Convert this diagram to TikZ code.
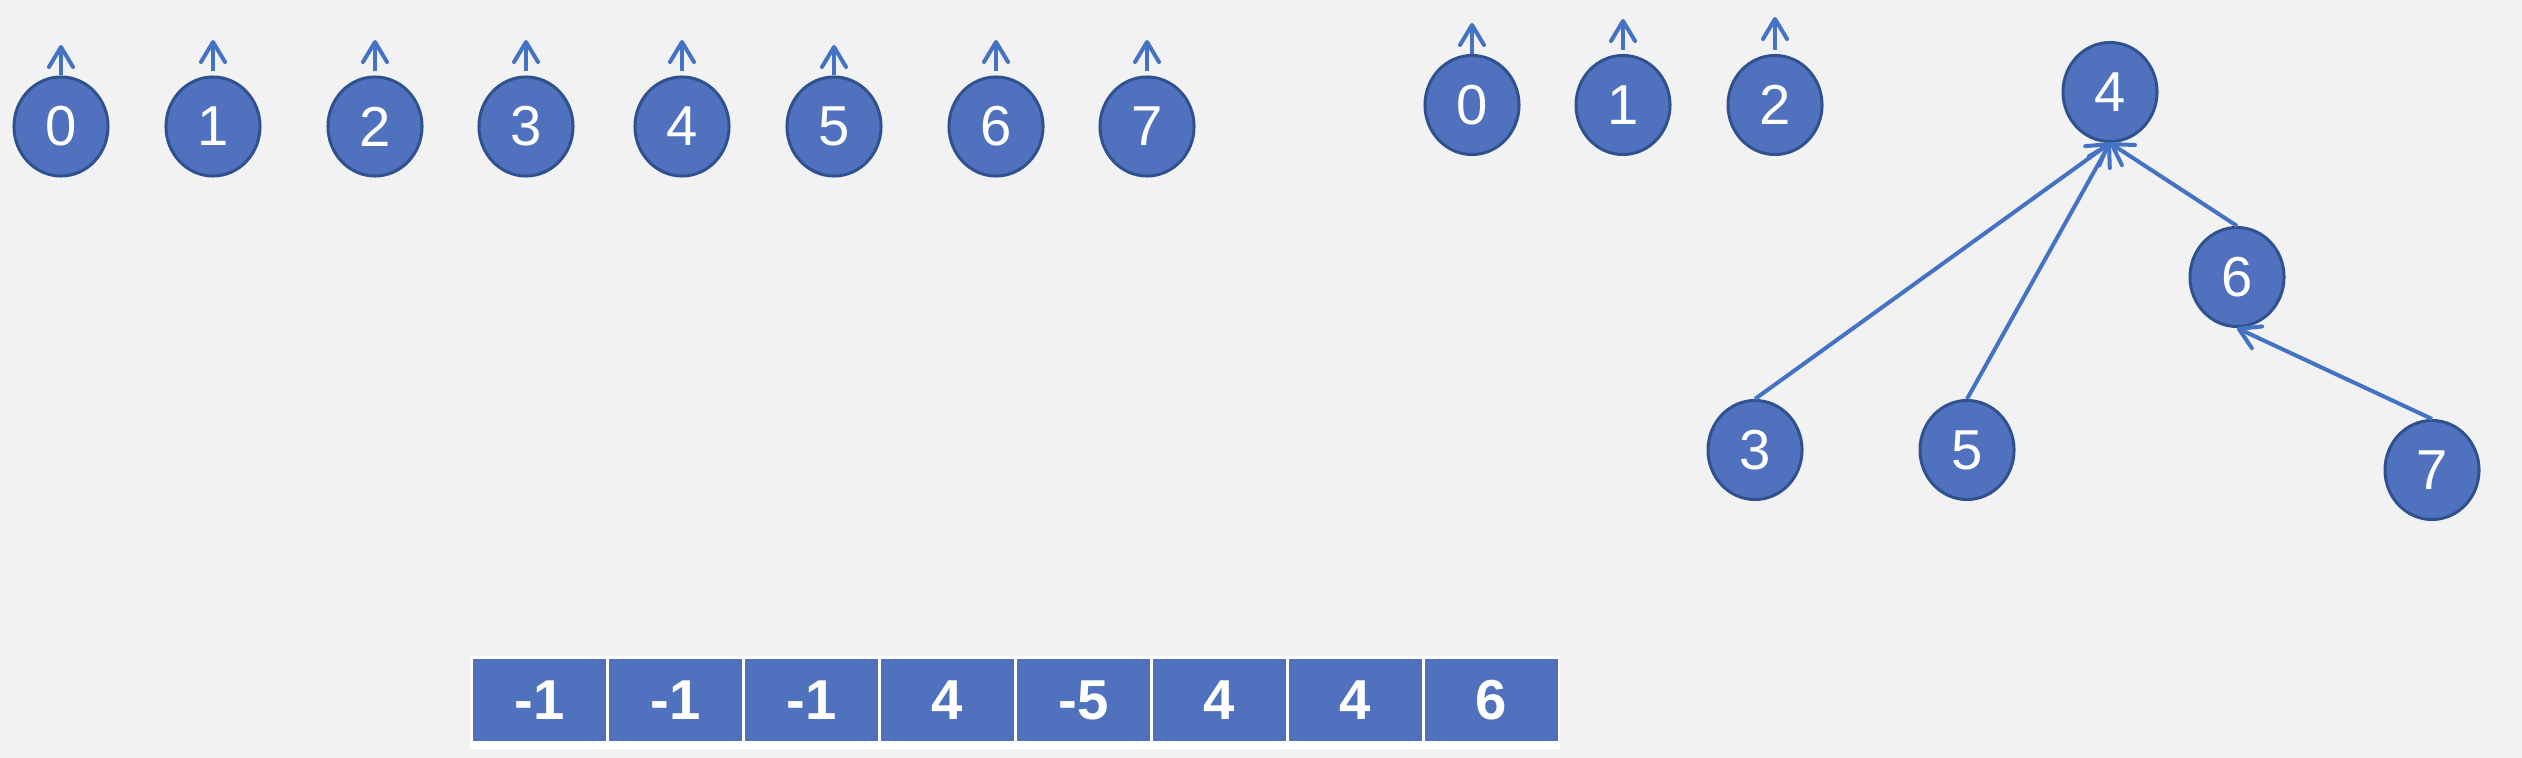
\documentclass[tikz,border=0pt]{standalone}
\usepackage{fontspec}
\setmainfont{Liberation Sans}
\usetikzlibrary{arrows.meta,shapes.geometric}
\definecolor{bgGray}{HTML}{F2F2F2}
\definecolor{nodeBlue}{HTML}{5072BE}
\definecolor{rimBlue}{HTML}{2F528F}
\definecolor{lineBlue}{HTML}{4472C4}

\begin{document}
\begin{tikzpicture}[x=0.01cm, y=-0.01cm,
    vert/.style={ellipse, fill=nodeBlue, draw=rimBlue, line width=0.03cm, minimum width=0.94cm, minimum height=0.99cm, inner sep=0pt, text=white, font=\fontsize{16}{19}\selectfont},
    cell/.style={rectangle, fill=nodeBlue, minimum width=1.33cm, minimum height=0.82cm, inner sep=0pt, text=white, font=\fontsize{16}{19}\selectfont\bfseries},
    parent/.style={lineBlue, line width=0.04cm, -{Straight Barb[length=2mm, width=2.4mm, round]}}]
    \fill[bgGray] (0,0) rectangle (2522,758);
    \useasboundingbox (0,0) rectangle (2522,758);
    % every vertex is its own root
    \foreach \i/\x/\tip/\gap in {0/61/45/0pt, 1/213/40/1.2pt, 2/375/40/1.2pt, 3/526/40/1.2pt, 4/682/40/1.2pt, 5/834/45/0pt, 6/996/40/1.2pt, 7/1147/40/1.2pt} {
        \node[vert] (a\i) at (\x,126.5) {\i};
        \coordinate (ta\i) at (\x,\tip);
        \draw[parent, shorten <=\gap] (a\i) -- (ta\i);
    }
    % roots left after the unions
    \foreach \i/\x/\tip/\gap in {0/1472/23/0pt, 1/1623/19/1.2pt, 2/1775/17/1.2pt} {
        \node[vert] (c\i) at (\x,105) {\i};
        \coordinate (tc\i) at (\x,\tip);
        \draw[parent, shorten <=\gap] (c\i) -- (tc\i);
    }
    \node[vert] (b4) at (2110,92) {4};
    \node[vert] (b6) at (2237,277) {6};
    \node[vert] (b3) at (1755,450) {3};
    \node[vert] (b5) at (1967,450) {5};
    \node[vert] (b7) at (2432,470) {7};
    \draw[parent] (b3.north) -- (b4.south);
    \draw[parent] (b5.north) -- (b4.south);
    \draw[parent] (b6.north) -- (b4.south);
    \draw[parent] (b7.north) -- (b6.south);
    % parent array
    \fill[white] (470,656) rectangle (1560,749);
    \foreach \v [count=\k from 0] in {-1,-1,-1,4,-5,4,4,6} {
        \node[cell] (p\k) at ({539.5+136*\k},700) {\v};
    }
\end{tikzpicture}
\end{document}
